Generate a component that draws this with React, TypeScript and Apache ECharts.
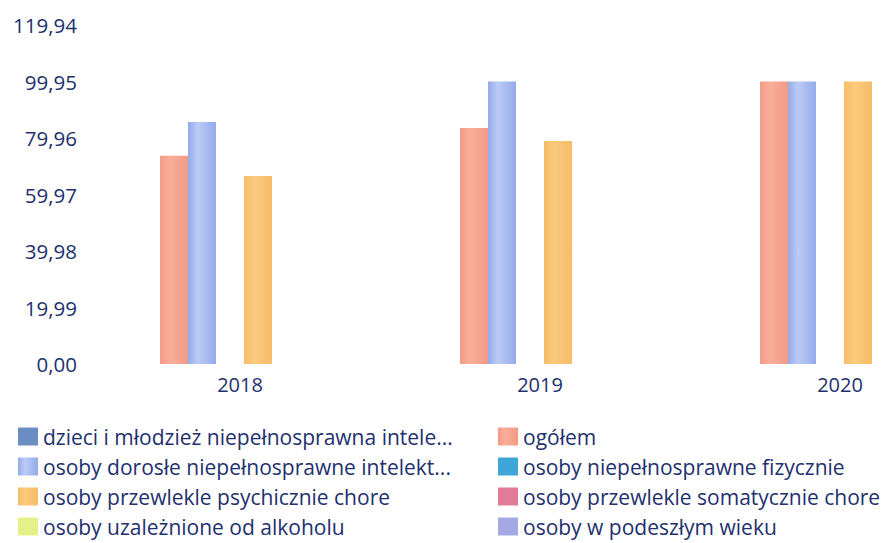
import React, { useEffect, useRef } from "react";
import * as echarts from "echarts";

const categories = ["2018", "2019", "2020"];
const yMax = 119.94;
const yInterval = 19.99;

const ogolem = [73.7, 83.5, 99.95];
const dorosle = [85.6, 99.95, 99.95];
const fizycznie: (number | null)[] = [null, null, null];
const psychicznie = [66.5, 78.9, 99.95];
const dzieci: (number | null)[] = [null, null, null];
const somatycznie: (number | null)[] = [null, null, null];
const alkohol: (number | null)[] = [null, null, null];
const wiek: (number | null)[] = [null, null, null];

const N_DZIECI = "dzieci i młodzież niepełnosprawna intele...";
const N_OGOLEM = "ogółem";
const N_DOROSLE = "osoby dorosłe niepełnosprawne intelekt...";
const N_FIZ = "osoby niepełnosprawne fizycznie";
const N_PSYCH = "osoby przewlekle psychicznie chore";
const N_SOMAT = "osoby przewlekle somatycznie chore";
const N_ALK = "osoby uzależnione od alkoholu";
const N_WIEK = "osoby w podeszłym wieku";

const leftLegend = [N_DZIECI, N_DOROSLE, N_PSYCH, N_ALK];
const rightLegend = [N_OGOLEM, N_FIZ, N_SOMAT, N_WIEK];

const grad = (edge: string, mid: string) =>
  new echarts.graphic.LinearGradient(0, 0, 1, 0, [
    { offset: 0, color: edge },
    { offset: 0.35, color: mid },
    { offset: 1, color: edge },
  ]);

export default function App() {
  const ref = useRef<HTMLDivElement>(null);
  useEffect(() => {
    if (!ref.current) return;
    const chart = echarts.init(ref.current, undefined, { renderer: "svg" });
    const textColor = "#22306e";
    const font = "'Open Sans', sans-serif";
    const bar = (name: string, data: (number | null)[], stack: string, color: any, legendColor: string) => ({
      name,
      type: "bar",
      stack,
      data,
      barWidth: 28,
      barGap: "0%",
      itemStyle: { color },
      color: legendColor,
    });
    const legendBase = {
      orient: "vertical",
      top: 426,
      height: 117,
      itemWidth: 20,
      itemHeight: 18,
      itemGap: 9,
      icon: "rect",
      padding: 0,
      textStyle: { color: textColor, fontSize: 21, fontFamily: font, lineHeight: 21 },
    };
    chart.setOption({
      animation: false,
      grid: { left: 66, right: -77, top: 25, bottom: 179, outerBoundsMode: "none", containLabel: false },
      legend: [
        { ...legendBase, left: 18, data: leftLegend },
        { ...legendBase, left: 498, data: rightLegend },
      ],
      xAxis: {
        type: "category",
        data: categories,
        axisLine: { show: false },
        axisTick: { show: false },
        axisLabel: {
          color: textColor,
          fontSize: 20,
          fontFamily: font,
          margin: 10,
          padding: [0, 0, 0, 48],
        },
      },
      yAxis: {
        type: "value",
        min: 0,
        max: yMax,
        interval: yInterval,
        splitLine: { show: false },
        axisLine: { show: false },
        axisTick: { show: false },
        axisLabel: {
          color: textColor,
          fontSize: 20.5,
          fontFamily: font,
          margin: -11,
          formatter: (v: number) => v.toFixed(2).replace(".", ","),
        },
      },
      series: [
        bar(N_OGOLEM, ogolem, "a", grad("#f29a86", "#f9ae98"), "#f4a08a"),
        bar(N_DOROSLE, dorosle, "b", grad("#94aaea", "#bccbf5"), "#a8bcf0"),
        bar(N_FIZ, fizycznie, "c", "#3ea6d8", "#3ea6d8"),
        bar(N_PSYCH, psychicznie, "d", grad("#f6bc68", "#fbca7e"), "#f8c272"),
        bar(N_DZIECI, dzieci, "a", "#6a8ec4", "#6a8ec4"),
        bar(N_SOMAT, somatycznie, "c", "#e27a98", "#e27a98"),
        bar(N_ALK, alkohol, "c", "#e6f08a", "#e6f08a"),
        bar(N_WIEK, wiek, "c", "#a4a8e4", "#a4a8e4"),
      ],
    });
    return () => chart.dispose();
  }, []);
  return (
    <div
      ref={ref}
      style={{ position: "fixed", left: 0, top: 0, width: 889, height: 543, background: "#fff" }}
    />
  );
}
